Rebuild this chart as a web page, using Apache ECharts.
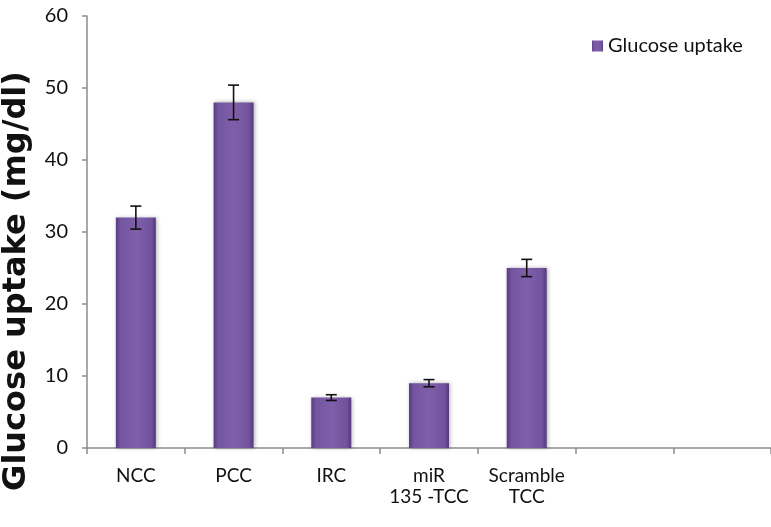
<!DOCTYPE html>
<html>
<head>
<meta charset="utf-8">
<script src="https://cdn.jsdelivr.net/npm/echarts@6/dist/echarts.min.js"></script>
<style>
html, body { margin: 0; padding: 0; background: #fff; }
#chart { width: 771px; height: 527px; }
</style>
</head>
<body>
<div id="chart"></div>
<script>
// 数据
const categories = ['NCC', 'PCC', 'IRC', 'miR\n135 -TCC', 'Scramble\nTCC', '', '']
const uptake = [32, 48, 7, 9, 25, null, null]
const uptakeErr = [1.6, 2.4, 0.4, 0.5, 1.2, null, null]
const yTicks = [0, 10, 20, 30, 40, 50, 60]

const chart = echarts.init(document.getElementById('chart'))

// 误差线数据 [index, value, err]
const errData = uptake
  .map((v, i) => (v == null ? null : [i, v, uptakeErr[i]]))
  .filter((d) => d)

const option = {
  animation: false,
  grid: {
    left: 87,
    right: -2,
    top: 16,
    bottom: 79,
    containLabel: false
  },
  legend: {
    left: 587,
    top: 31,
    icon: 'rect',
    itemWidth: 11,
    itemHeight: 11,
    itemGap: 6,
    data: ['Glucose uptake'],
    textStyle: {
      fontFamily: 'Lato',
      fontSize: 20,
      color: '#111'
    }
  },
  graphic: [
    {
      type: 'text',
      x: 17,
      y: 281,
      rotation: Math.PI / 2,
      style: {
        text: 'Glucose uptake (mg/dl)',
        font: 'bold 32px "DejaVu Sans"',
        fill: '#111',
        textAlign: 'center',
        textVerticalAlign: 'middle'
      }
    }
  ],
  xAxis: {
    type: 'category',
    data: categories,
    axisLine: { lineStyle: { color: '#8c8c8c', width: 1.5 } },
    axisTick: { show: true, length: 6, lineStyle: { color: '#8c8c8c', width: 1.5 } },
    axisLabel: {
      interval: 0,
      margin: 17,
      fontFamily: 'Lato',
      fontSize: 19,
      lineHeight: 21,
      color: '#111'
    }
  },
  yAxis: {
    type: 'value',
    min: yTicks[0],
    max: yTicks[yTicks.length - 1],
    interval: 10,
    splitLine: { show: false },
    axisLine: { show: true, lineStyle: { color: '#8c8c8c', width: 1.5 } },
    axisTick: { show: true, length: 5, lineStyle: { color: '#8c8c8c', width: 1.5 } },
    axisLabel: {
      margin: 19,
      fontFamily: 'Lato',
      fontSize: 20,
      color: '#111'
    }
  },
  series: [
    {
      name: 'Glucose uptake',
      type: 'bar',
      barWidth: 40,
      data: uptake,
      itemStyle: {
        color: {
          type: 'linear',
          x: 0,
          y: 0,
          x2: 1,
          y2: 0,
          colorStops: [
            { offset: 0, color: '#583d82' },
            { offset: 0.12, color: '#7455a0' },
            { offset: 0.5, color: '#7f5fa9' },
            { offset: 0.88, color: '#72539e' },
            { offset: 1, color: '#543a7e' }
          ]
        },
        shadowColor: 'rgba(0,0,0,0.3)',
        shadowBlur: 4,
        shadowOffsetX: 1
      }
    },
    {
      name: 'err',
      type: 'custom',
      data: errData,
      z: 5,
      renderItem: (params, api) => {
        const x = api.value(0)
        const v = api.value(1)
        const e = api.value(2)
        const hi = api.coord([x, v + e])
        const lo = api.coord([x, v - e])
        const w = 5.5
        const style = { stroke: '#111', lineWidth: 1.6 }
        return {
          type: 'group',
          children: [
            { type: 'line', shape: { x1: hi[0], y1: hi[1], x2: lo[0], y2: lo[1] }, style },
            { type: 'line', shape: { x1: hi[0] - w, y1: hi[1], x2: hi[0] + w, y2: hi[1] }, style },
            { type: 'line', shape: { x1: lo[0] - w, y1: lo[1], x2: lo[0] + w, y2: lo[1] }, style }
          ]
        }
      }
    }
  ]
}

chart.setOption(option)
</script>
</body>
</html>
